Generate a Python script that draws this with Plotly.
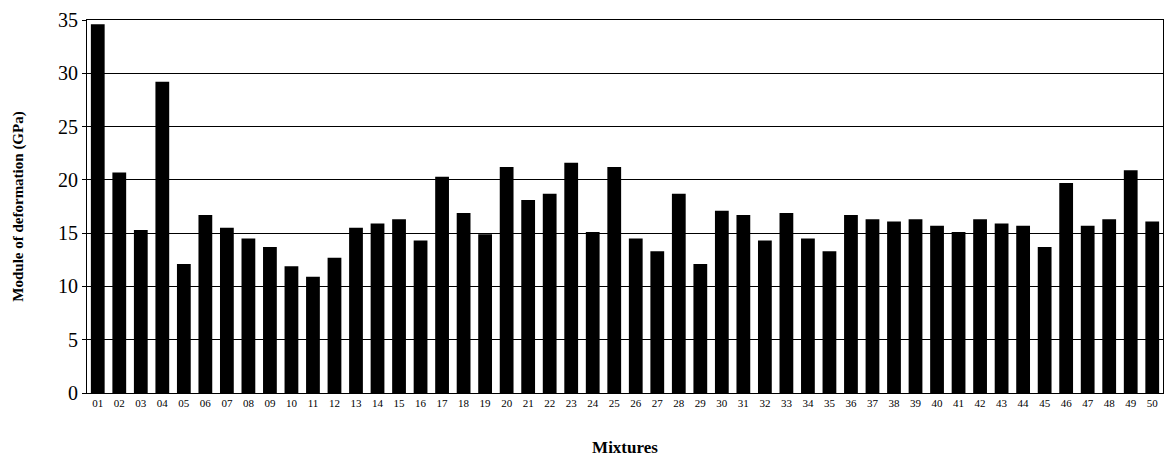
import plotly.graph_objects as go

mixtures = ["%02d" % i for i in range(1, 51)]
modulus = [34.6, 20.7, 15.3, 29.2, 12.1, 16.7, 15.5, 14.5, 13.7, 11.9,
           10.9, 12.7, 15.5, 15.9, 16.3, 14.3, 20.3, 16.9, 14.9, 21.2,
           18.1, 18.7, 21.6, 15.1, 21.2, 14.5, 13.3, 18.7, 12.1, 17.1,
           16.7, 14.3, 16.9, 14.5, 13.3, 16.7, 16.3, 16.1, 16.3, 15.7,
           15.1, 16.3, 15.9, 15.7, 13.7, 19.7, 15.7, 16.3, 20.9, 16.1]
y_ticks = [0, 5, 10, 15, 20, 25, 30, 35]

fig = go.Figure(go.Bar(x=mixtures, y=modulus, marker_color="black", marker_line_width=0))
fig.update_layout(
    width=1157, height=449, plot_bgcolor="white", paper_bgcolor="white",
    margin=dict(l=79, r=2, t=12, b=64), bargap=0.36, showlegend=False,
    font=dict(family="Liberation Serif", color="black"),
)
fig.update_xaxes(type="category", tickfont_size=11, ticks="", showline=True, linecolor="black",
                 mirror=True, automargin=False,
                 title=dict(text="<b>Mixtures</b>", font_size=17, standoff=42))
fig.update_yaxes(range=[0, 35], tickvals=y_ticks, tickfont_size=20, showgrid=True, gridcolor="black",
                 gridwidth=1, showline=True, linecolor="black", mirror=True, ticks="outside",
                 ticklen=4, tickcolor="black", zeroline=False, automargin=False,
                 title=dict(text="<b>Module of deformation (GPa)</b>", font_size=15, standoff=30))
fig.write_html("out.html")
